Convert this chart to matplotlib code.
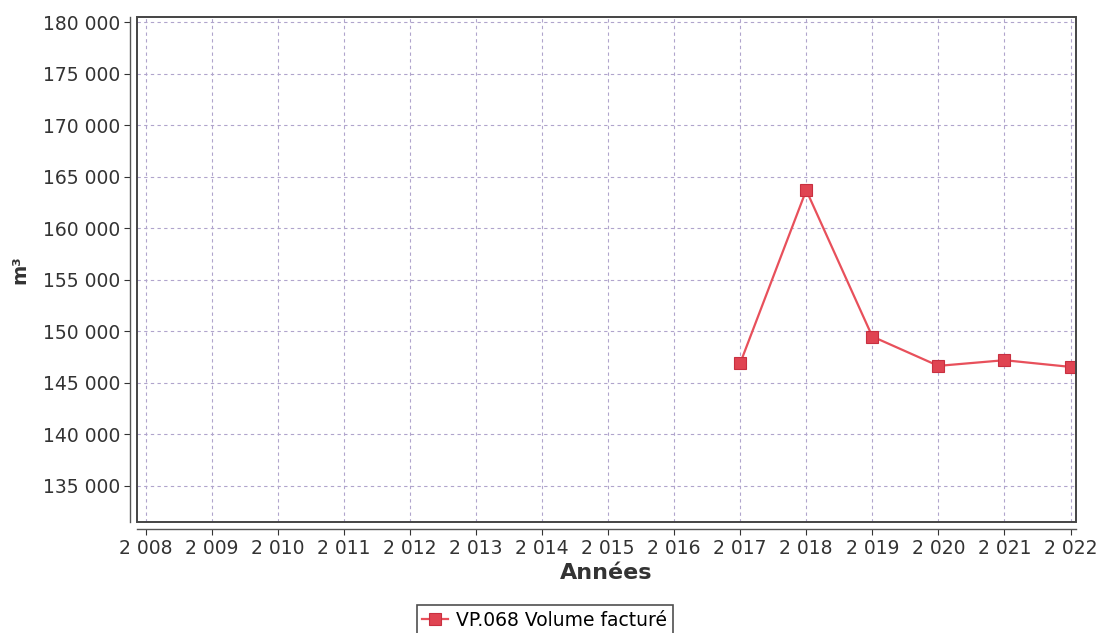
import matplotlib
matplotlib.use("Agg")
import matplotlib.pyplot as plt
from matplotlib.patches import Rectangle
from matplotlib.ticker import FuncFormatter, FixedLocator

years = [2017, 2018, 2019, 2020, 2021, 2022]
volumes = [146900, 163700, 149500, 146650, 147200, 146550]
x_ticks = list(range(2008, 2023))
y_ticks = list(range(135000, 180001, 5000))
series_label = "VP.068 Volume facturé"
x_label = "Années"
y_label = "m³"

plt.rcParams['font.family'] = ['DejaVu Sans']
fig = plt.figure(figsize=(11, 6.33), dpi=100)
ax = fig.add_axes([0.1245, 0.1754, 0.8535, 0.7976])

ax.plot(years, volumes, color="#e8505b", lw=1.6, marker="s", markersize=9,
        markerfacecolor="#e04452", markeredgecolor="#c83040", markeredgewidth=0.8,
        label=series_label, zorder=3)

ax.set_xlim(2007.87, 2022.08)
ax.set_ylim(131500, 180500)
ax.xaxis.set_major_locator(FixedLocator(x_ticks))
ax.yaxis.set_major_locator(FixedLocator(y_ticks))

def fmt(v, pos):
    s = f"{int(round(v)):,}".replace(",", " ")
    return s
ax.xaxis.set_major_formatter(FuncFormatter(fmt))
ax.yaxis.set_major_formatter(FuncFormatter(fmt))

ax.grid(True, color="#b0a4cc", linestyle=(0, (3, 3)), linewidth=0.8)
ax.set_axisbelow(True)

for s in ["top", "right"]:
    ax.spines[s].set_visible(False)
for s in ["left", "bottom"]:
    ax.spines[s].set_position(("outward", 5))
    ax.spines[s].set_color("#555555")
    ax.spines[s].set_linewidth(1.0)

ax.add_patch(Rectangle((0, 0), 1, 1, transform=ax.transAxes, fill=False,
                       edgecolor="#444444", linewidth=1.4, clip_on=False, zorder=4))

ax.tick_params(axis="both", which="major", labelsize=13.5, colors="#333333",
               length=4, width=0.8, labelcolor="#333333")
ax.tick_params(axis="x", pad=3)
ax.tick_params(axis="y", pad=3)

ax.set_xlabel(x_label, fontsize=16, fontweight="bold", color="#333333", labelpad=4)
ax.set_ylabel(y_label, fontsize=14, fontweight="bold", color="#333333", labelpad=10)

leg = fig.legend(loc="center", bbox_to_anchor=(0.495, 0.02), fontsize=13.5,
                 frameon=True, fancybox=False, edgecolor="#222222",
                 handlelength=1.4, handletextpad=0.4, borderpad=0.3)
leg.get_frame().set_linewidth(1.2)

fig.savefig("out.png", dpi=100, facecolor="white")
